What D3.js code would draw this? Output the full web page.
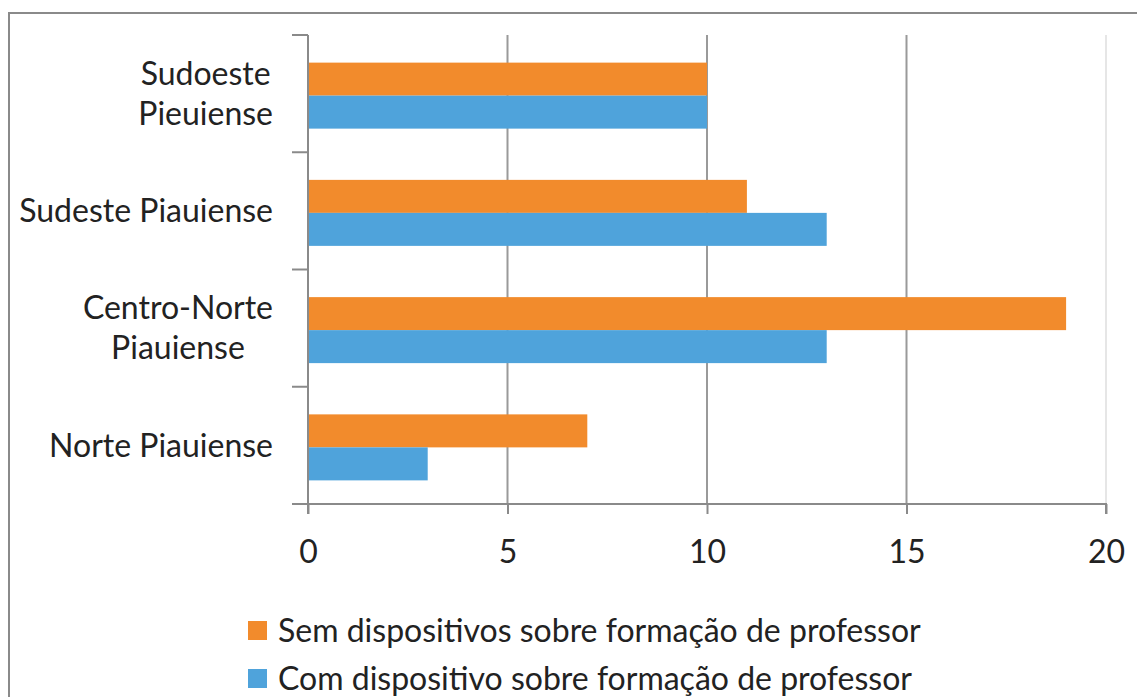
<!DOCTYPE html>
<html>
<head>
<meta charset="utf-8">
<script src="https://cdn.jsdelivr.net/npm/d3@7"></script>
<style>
html,body{margin:0;padding:0;background:#fff;}
svg{display:block;}
text{font-family:Lato, "Open Sans", sans-serif;fill:#222;}
</style>
</head>
<body>
<svg id="chart" width="1137" height="697"></svg>
<script>
const categories = [["Sudoeste","Pieuiense"],["Sudeste Piauiense"],["Centro-Norte","Piauiense"],["Norte Piauiense"]];
const semValues = [10, 11, 19, 7];
const comValues = [10, 13, 13, 3];
const seriesNames = ["Sem dispositivos sobre formação de professor","Com dispositivo sobre formação de professor"];
const seriesColors = ["#F28B2C","#4FA3DB"];
const xTicks = [0, 5, 10, 15, 20];

const svg = d3.select("#chart");
const fontSize = 32;

// frame
svg.append("path").attr("d","M9,697 V13 H1137").attr("fill","none").attr("stroke","#8a8a8a").attr("stroke-width",2);

const x = d3.scaleLinear().domain([0,20]).range([308,1106]);
const y = d3.scaleBand().domain(d3.range(categories.length)).range([35,504]);

// gridlines
svg.append("g").selectAll("line").data(xTicks.filter(t=>t>0)).join("line")
  .attr("x1",d=>x(d)).attr("x2",d=>x(d)).attr("y1",35).attr("y2",504)
  .attr("stroke",d=>d===20?"#e6e6e6":"#9a9a9a").attr("stroke-width",2);

// bars
const barH = 33;
const g = svg.append("g");
categories.forEach((c,i)=>{
  const cy = y(i) + y.bandwidth()/2 + 2;
  g.append("rect").attr("x",x(0)).attr("y",cy-barH).attr("width",x(semValues[i])-x(0)).attr("height",barH).attr("fill",seriesColors[0]);
  g.append("rect").attr("x",x(0)).attr("y",cy).attr("width",x(comValues[i])-x(0)).attr("height",barH).attr("fill",seriesColors[1]);
});

// x axis
const xAxis = d3.axisBottom(x).tickValues(xTicks).tickSize(10).tickPadding(22).tickFormat(d3.format("d"));
const xg = svg.append("g").attr("transform","translate(0,504)").call(xAxis);
xg.select(".domain").attr("stroke","#8a8a8a").attr("stroke-width",2).attr("d","M292,0H1106V10");
xg.selectAll(".tick line").attr("stroke","#8a8a8a").attr("stroke-width",2);
xg.selectAll(".tick text").attr("font-size",fontSize).attr("font-family","Lato, sans-serif").attr("fill","#222").attr("dy","0.85em");

// y axis
svg.append("line").attr("x1",308).attr("x2",308).attr("y1",35).attr("y2",514).attr("stroke","#8a8a8a").attr("stroke-width",2);
const boundaries = d3.range(categories.length).map(i=>y(i));
svg.append("g").selectAll("line").data(boundaries).join("line")
  .attr("x1",292).attr("x2",308).attr("y1",d=>d).attr("y2",d=>d).attr("stroke","#8a8a8a").attr("stroke-width",2);

// category labels
categories.forEach((lines,i)=>{
  const cy = y(i) + y.bandwidth()/2;
  const lh = 40;
  const t = svg.append("text").attr("font-size",fontSize).attr("text-anchor","middle");
  lines.forEach((l,k)=>{
    t.append("tspan").attr("x",0).attr("y",cy + (k-(lines.length-1)/2)*lh).attr("dy","0.35em").text(l);
  });
  const bb = t.node().getBBox();
  const shift = 273 - (bb.x + bb.width);
  t.attr("transform",`translate(${shift},0)`);
});

// legend
const leg = svg.append("g");
seriesNames.forEach((n,i)=>{
  const ly = 631 + i*48;
  leg.append("rect").attr("x",248).attr("y",ly-10).attr("width",19).attr("height",19).attr("fill",seriesColors[i]);
  leg.append("text").attr("x",278).attr("y",ly).attr("dy","0.35em").attr("font-size",fontSize).text(n);
});
</script>
</body>
</html>
